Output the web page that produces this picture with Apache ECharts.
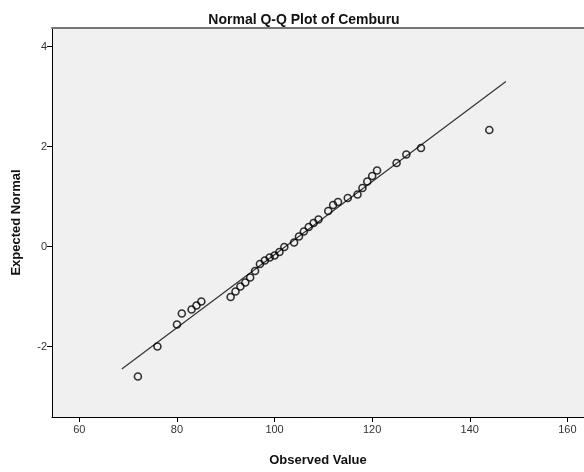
<!DOCTYPE html>
<html>
<head>
<meta charset="utf-8">
<title>Normal Q-Q Plot of Cemburu</title>
<script src="https://cdn.jsdelivr.net/npm/echarts@6/dist/echarts.min.js"></script>
<style>
    html, body { margin: 0; padding: 0; background: #fff; }
    #main { width: 584px; height: 472px; }
</style>
</head>
<body>
<div id="main"></div>
<script>
    // observed values and their expected normal scores
    var observed = [72, 76, 80, 81, 83, 84, 85, 91, 92, 93, 94, 95, 96, 97, 98, 99, 100, 101, 102,
        104, 105, 106, 107, 108, 109, 111, 112, 113, 115, 117, 118, 119, 120, 121, 125, 127, 130, 144];
    var expected = [-2.60, -2.00, -1.56, -1.34, -1.26, -1.18, -1.10, -1.01, -0.90, -0.80, -0.72, -0.62,
        -0.49, -0.35, -0.28, -0.22, -0.18, -0.11, -0.01, 0.08, 0.20, 0.30, 0.39, 0.47, 0.54, 0.71, 0.83,
        0.89, 0.97, 1.04, 1.17, 1.30, 1.41, 1.52, 1.67, 1.84, 1.97, 2.33];
    // reference line ends
    var lineX = [68.7, 147.4];
    var lineY = [-2.45, 3.30];
    var xTicks = [60, 80, 100, 120, 140, 160];
    var yTicks = [-2, 0, 2, 4];

    var font = 'Arial, "Liberation Sans", sans-serif';
    var points = observed.map(function (v, i) { return [v, expected[i]]; });
    var refLine = lineX.map(function (v, i) { return [v, lineY[i]]; });

    var chart = echarts.init(document.getElementById('main'));
    chart.setOption({
        animation: false,
        backgroundColor: '#ffffff',
        title: {
            text: 'Normal Q-Q Plot of Cemburu', left: 299, top: 8, textAlign: 'center',
            textStyle: {fontFamily: font, fontSize: 14, fontWeight: 'bold', color: '#111'}
        },
        grid: {
            left: 52, right: 0, top: 28, bottom: 50,
            show: true, backgroundColor: '#f0f0f0', borderWidth: 0
        },
        xAxis: [{
            type: 'value', min: 54.4, max: 163.4,
            name: 'Observed Value', nameLocation: 'middle', nameGap: 37,
            nameTextStyle: {fontFamily: font, fontSize: 13, fontWeight: 'bold', color: '#111'},
            axisLine: {show: true, onZero: false, lineStyle: {color: '#000', width: 1}},
            axisTick: {show: true, customValues: xTicks, length: 5, lineStyle: {color: '#000'}},
            axisLabel: {customValues: xTicks, fontFamily: font, fontSize: 11, color: '#333', margin: 7},
            splitLine: {show: false}
        }, {
            type: 'value', position: 'top', min: 54.4, max: 163.4,
            axisLine: {show: true, onZero: false, lineStyle: {color: '#777', width: 2}},
            axisTick: {show: false}, axisLabel: {show: false}, splitLine: {show: false}
        }],
        yAxis: {
            type: 'value', min: -3.41, max: 4.37,
            name: 'Expected Normal', nameLocation: 'middle', nameGap: 29, nameRotate: 90,
            nameTextStyle: {fontFamily: font, fontSize: 13, fontWeight: 'bold', color: '#111'},
            axisLine: {show: true, onZero: false, lineStyle: {color: '#000', width: 1}},
            axisTick: {show: true, customValues: yTicks, length: 5, lineStyle: {color: '#000'}},
            axisLabel: {customValues: yTicks, fontFamily: font, fontSize: 11, color: '#333', margin: 5},
            splitLine: {show: false}
        },
        series: [{
            type: 'line', data: refLine, symbol: 'none',
            lineStyle: {color: '#333', width: 1.2}, z: 2
        }, {
            type: 'scatter', data: points, symbol: 'circle', symbolSize: 7,
            itemStyle: {color: 'rgba(0,0,0,0)', borderColor: '#000', borderWidth: 1.6}, z: 3
        }]
    });
</script>
</body>
</html>
